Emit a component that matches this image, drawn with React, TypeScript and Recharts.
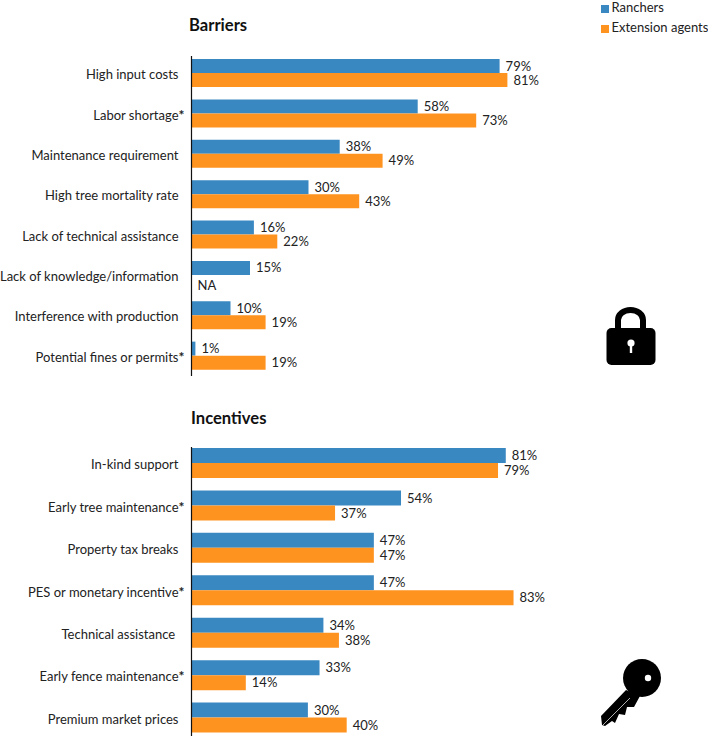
import React from "react";
import { BarChart, Bar, XAxis, YAxis, LabelList, Legend } from "recharts";

const FONT = "Lato, 'Open Sans', sans-serif";
const BLUE = "#3a88c2";
const ORANGE = "#ff9320";
const TEXT = "#222222";

const barrierNames = [
  "High input costs",
  "Labor shortage*",
  "Maintenance requirement",
  "High tree mortality rate",
  "Lack of technical assistance",
  "Lack of knowledge/information",
  "Interference with production",
  "Potential fines or permits*",
];
const barrierRanchers = [79, 58, 38, 30, 16, 15, 10, 1];
const barrierAgents = [81, 73, 49, 43, 22, null, 19, 19];

const incentiveNames = [
  "In-kind support",
  "Early tree maintenance*",
  "Property tax breaks",
  "PES or monetary incentive*",
  "Technical assistance ",
  "Early fence maintenance*",
  "Premium market prices",
];
const incentiveRanchers = [81, 54, 47, 47, 34, 33, 30];
const incentiveAgents = [79, 37, 47, 83, 38, 14, 40];

const pct = (v: number | null) => (v === null ? undefined : `${v}%`);

const barrierData = barrierNames.map((name, i) => ({
  name,
  ranchers: barrierRanchers[i],
  agents: barrierAgents[i],
  ranchersLabel: pct(barrierRanchers[i]),
  agentsLabel: pct(barrierAgents[i]),
  missingLabel: barrierAgents[i] === null ? "NA" : undefined,
}));
const incentiveData = incentiveNames.map((name, i) => ({
  name,
  ranchers: incentiveRanchers[i],
  agents: incentiveAgents[i],
  ranchersLabel: pct(incentiveRanchers[i]),
  agentsLabel: pct(incentiveAgents[i]),
}));

const labelStyle = { fontFamily: FONT, fontSize: 13, fill: TEXT };

function CategoryTick({ x, y, payload }: any) {
  const starred = payload.value.endsWith("*");
  const label = starred ? payload.value.slice(0, -1) : payload.value;
  return (
    <text
      x={x - 7}
      y={y}
      dy={6}
      textAnchor="end"
      fontFamily={FONT}
      fontSize={13}
      fill={TEXT}
      style={{ whiteSpace: "pre" }}
    >
      {label}
      {starred && (
        <tspan x={x - 7} textAnchor="start" fontWeight={700} fontSize={14}>
          *
        </tspan>
      )}
    </text>
  );
}

// the missing orange value has no bar, so its label sits one bar below the blue one
function MissingLabel({ x, y, height, value }: any) {
  if (!value) return null;
  return (
    <text x={x + 6} y={y + height * 1.5} dy={8} {...labelStyle}>
      {value}
    </text>
  );
}

function Chart({ data, top, height, right, barSize, legend, padding }: any) {
  return (
    <BarChart
      layout="vertical"
      width={708}
      height={height}
      data={data}
      barSize={barSize}
      barGap={0}
      margin={{ top, right, bottom: 0, left: 0 }}
      style={{ position: "absolute", left: 0, top: 0 }}
    >
      <XAxis type="number" domain={[0, 100]} hide />
      <YAxis
        type="category"
        dataKey="name"
        width={191.5}
        padding={padding}
        interval={0}
        tickLine={false}
        tickMargin={0}
        tick={<CategoryTick />}
        axisLine={{ stroke: "#111111", strokeWidth: 1.2 }}
      />
      {legend && (
        <Legend
          layout="vertical"
          align="right"
          verticalAlign="top"
          iconType="square"
          iconSize={8}
          itemSorter={(item: any) => (item.value === "Ranchers" ? 0 : 1)}
          wrapperStyle={{
            position: "absolute",
            left: 600.5,
            top: 1,
            width: 107.5,
            fontFamily: FONT,
            fontSize: 13,
            lineHeight: "13px",
          }}
          formatter={(value: string) => (
            <span
              style={{
                color: TEXT,
                marginLeft: -1,
                whiteSpace: "nowrap",
                display: "inline-block",
                paddingBottom: 7,
                verticalAlign: "top",
              }}
            >
              {value}
            </span>
          )}
        />
      )}
      <Bar dataKey="ranchers" name="Ranchers" fill={BLUE} isAnimationActive={false}>
        <LabelList dataKey="ranchersLabel" position="right" offset={6} style={labelStyle} />
        {legend && <LabelList dataKey="missingLabel" content={<MissingLabel />} />}
      </Bar>
      <Bar dataKey="agents" name="Extension agents" fill={ORANGE} isAnimationActive={false}>
        <LabelList dataKey="agentsLabel" position="right" offset={6} style={labelStyle} />
      </Bar>
    </BarChart>
  );
}

function Title({ text, left, top }: any) {
  return (
    <div
      style={{
        position: "absolute",
        left,
        top,
        fontFamily: FONT,
        fontSize: 16.6,
        fontWeight: 700,
        color: "#111111",
      }}
    >
      {text}
    </div>
  );
}

function Icons() {
  return (
    <svg width={708} height={736} style={{ position: "absolute", left: 0, top: 0 }}>
      {/* lock */}
      <path
        d="M618 330 V320 A12.5 10 0 0 1 643 320 V330"
        fill="none"
        stroke="#000"
        strokeWidth={6}
      />
      <rect x={606.5} y={328} width={49} height={37} rx={5} fill="#000" />
      <circle cx={631} cy={343} r={3.6} fill="#fff" />
      <rect x={629.8} y={344} width={2.4} height={9} fill="#fff" />
      {/* key */}
      <circle cx={642} cy={678} r={19} fill="#000" />
      <circle cx={648} cy={678} r={3.2} fill="#fff" />
      <path
        d="M626 690 L601 716 L602 725 L605 726 L612 721 L615 723 L619 714 L625 715 L627 707 L634 707 L640 696 Z"
        fill="#000"
      />
      <path d="M603 725 L630 698" stroke="#ddd" strokeWidth={0.8} />
    </svg>
  );
}

export default function App() {
  return (
    <div style={{ position: "absolute", left: 0, top: 0, width: 708, height: 736, background: "#fff", overflow: "hidden" }}>
      <Chart data={barrierData} top={56} height={376} right={19} barSize={14} legend padding={{ top: -3, bottom: 0 }} />
      <div style={{ position: "absolute", left: 0, top: 0 }}>
        <Chart data={incentiveData} top={447} height={736} right={128.5} barSize={15} padding={{ top: -5, bottom: -3 }} />
      </div>
      <Title text="Barriers" left={189} top={15} />
      <Title text="Incentives" left={191} top={408} />
      <Icons />
    </div>
  );
}
